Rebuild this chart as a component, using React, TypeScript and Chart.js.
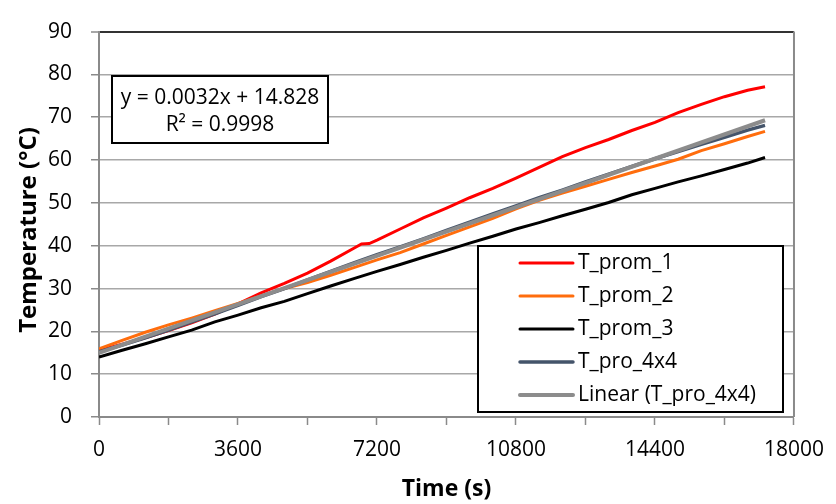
import React, { useEffect, useRef } from 'react';
import { Chart, registerables } from 'chart.js';

Chart.register(...registerables);

// ---- data ----
const timeS = [0, 600, 1200, 1800, 2400, 3000, 3600, 4200, 4800, 5400, 6000, 6600, 7200, 7800, 8400, 9000, 9600, 10200, 10800, 11400, 12000, 12600, 13200, 13800, 14400, 15000, 15600, 16200, 16800, 17250];
const timeRed = [0, 600, 1200, 1800, 2400, 3000, 3600, 4200, 4800, 5400, 6000, 6600, 6800, 7000, 7200, 7800, 8400, 9000, 9600, 10200, 10800, 11400, 12000, 12600, 13200, 13800, 14400, 15000, 15600, 16200, 16800, 17250];
const tProm1 = [15.6, 17.0, 18.5, 20.2, 22.0, 24.0, 26.4, 29.0, 31.2, 33.6, 36.4, 39.4, 40.4, 40.5, 41.3, 43.9, 46.5, 48.8, 51.2, 53.4, 55.8, 58.3, 60.8, 62.9, 64.8, 66.9, 68.8, 71.1, 73.0, 74.8, 76.3, 77.1];
const tProm2 = [15.9, 17.9, 19.8, 21.5, 23.1, 24.8, 26.5, 28.3, 30.0, 31.4, 33.1, 34.9, 36.7, 38.4, 40.4, 42.4, 44.4, 46.4, 48.6, 50.6, 52.3, 53.9, 55.5, 57.1, 58.6, 60.2, 62.2, 63.8, 65.5, 66.7];
const tProm3 = [14.0, 15.6, 17.1, 18.7, 20.3, 22.2, 23.8, 25.5, 27.0, 28.8, 30.6, 32.3, 34.0, 35.6, 37.3, 38.9, 40.6, 42.2, 43.9, 45.4, 47.0, 48.5, 50.1, 51.9, 53.4, 54.9, 56.3, 57.8, 59.3, 60.6];
const tPro4x4 = [15.2, 16.8, 18.5, 20.3, 22.2, 24.1, 26.1, 28.1, 30.0, 32.0, 34.0, 36.0, 37.9, 39.7, 41.6, 43.6, 45.5, 47.4, 49.3, 51.2, 53.0, 54.9, 56.7, 58.5, 60.3, 62.0, 63.7, 65.3, 67.0, 68.1];
const linearTime = [0, 17250];
const linearTemp = [15.0, 69.3];

const seriesNames = ['T_prom_1', 'T_prom_2', 'T_prom_3', 'T_pro_4x4', 'Linear (T_pro_4x4)'];
const seriesColors = ['#ff0000', '#ff6d0d', '#000000', '#44546a', '#8c8c8c'];
const equationLines = ['y = 0.0032x + 14.828', 'R\u00b2 = 0.9998'];
const xTitle = 'Time (s)';
const yTitle = 'Temperature (\u00b0C)';

const FONT = '"Open Sans", "DejaVu Sans", sans-serif';

function pts(xs: number[], ys: number[]) {
  return xs.map((x, i) => ({ x, y: ys[i] }));
}

const overlayPlugin = {
  id: 'overlay',
  afterDraw(chart: any) {
    const ctx = chart.ctx as CanvasRenderingContext2D;
    const ca = chart.chartArea;
    ctx.save();
    // right border
    ctx.strokeStyle = '#8a8a8a';
    ctx.lineWidth = 2;
    ctx.beginPath();
    ctx.moveTo(ca.right, ca.top);
    ctx.lineTo(ca.right, ca.bottom);
    ctx.stroke();

    // axis titles
    ctx.fillStyle = '#000';
    ctx.font = `bold 23px ${FONT}`;
    ctx.textAlign = 'center';
    ctx.textBaseline = 'middle';
    ctx.fillText(xTitle, (ca.left + ca.right) / 2, 489);
    ctx.save();
    ctx.font = `bold 24px ${FONT}`;
    ctx.translate(29, 230);
    ctx.rotate(-Math.PI / 2);
    ctx.fillText(yTitle, 0, 0);
    ctx.restore();

    // equation box
    const ex = 112, ey = 76, ew = 216, eh = 67;
    ctx.fillStyle = '#fff';
    ctx.fillRect(ex, ey, ew, eh);
    ctx.strokeStyle = '#000';
    ctx.lineWidth = 2;
    ctx.strokeRect(ex, ey, ew, eh);
    ctx.fillStyle = '#000';
    ctx.font = `21px ${FONT}`;
    ctx.fillText(equationLines[0], ex + ew / 2, 98);
    ctx.fillText(equationLines[1], ex + ew / 2, 125);

    // legend box
    const lx = 478, ly = 246, lw = 305, lh = 166;
    ctx.fillStyle = '#fff';
    ctx.fillRect(lx, ly, lw, lh);
    ctx.strokeStyle = '#000';
    ctx.lineWidth = 2;
    ctx.strokeRect(lx, ly, lw, lh);
    ctx.font = `21px ${FONT}`;
    ctx.textAlign = 'left';
    const rowY = [263, 296, 329, 362, 395];
    const widths = [3, 3, 3, 3.5, 4];
    seriesNames.forEach((name, i) => {
      ctx.strokeStyle = seriesColors[i];
      ctx.lineWidth = widths[i];
      ctx.lineCap = 'round';
      ctx.beginPath();
      ctx.moveTo(520, rowY[i]);
      ctx.lineTo(573, rowY[i]);
      ctx.stroke();
      ctx.fillStyle = '#000';
      ctx.fillText(name, 578, rowY[i]);
    });
    ctx.restore();
  },
};

export default function App() {
  const ref = useRef<HTMLCanvasElement | null>(null);
  useEffect(() => {
    if (!ref.current) return;
    const chart = new Chart(ref.current, {
      type: 'line',
      data: {
        datasets: [
          { label: seriesNames[0], data: pts(timeRed, tProm1), borderColor: seriesColors[0], borderWidth: 3, order: 4 },
          { label: seriesNames[1], data: pts(timeS, tProm2), borderColor: seriesColors[1], borderWidth: 3, order: 3 },
          { label: seriesNames[2], data: pts(timeS, tProm3), borderColor: seriesColors[2], borderWidth: 3, order: 2 },
          { label: seriesNames[3], data: pts(timeS, tPro4x4), borderColor: seriesColors[3], borderWidth: 3.5, order: 1 },
          { label: seriesNames[4], data: pts(linearTime, linearTemp), borderColor: seriesColors[4], borderWidth: 4, order: 0 },
        ] as any,
      },
      options: {
        responsive: false,
        animation: false,
        elements: { point: { radius: 0 }, line: { tension: 0, fill: false } },
        layout: { padding: { left: 0, right: 38, top: 22, bottom: 0 } },
        plugins: { legend: { display: false }, tooltip: { enabled: false } },
        scales: {
          x: {
            type: 'linear',
            min: 0,
            max: 18000,
            afterFit: (s: any) => { s.height = 87; },
            ticks: {
              stepSize: 1800,
              autoSkip: false,
              maxRotation: 0,
              padding: 12,
              color: '#000',
              font: { family: FONT, size: 21 },
              callback: (v: any) => (Number(v) % 3600 === 0 ? String(v) : ''),
            },
            grid: { drawOnChartArea: false, drawTicks: true, tickLength: 8, tickColor: '#8a8a8a', tickWidth: 1.5 },
            border: { display: true, color: '#8a8a8a', width: 2 },
          },
          y: {
            type: 'linear',
            min: 0,
            max: 90,
            afterFit: (s: any) => { s.width = 99; },
            ticks: {
              stepSize: 10,
              padding: 19,
              color: '#000',
              font: { family: FONT, size: 21 },
            },
            grid: {
              color: (c: any) => (c.tick && c.tick.value === 90 ? '#333333' : '#a8a8a8'),
              lineWidth: (c: any) => (c.tick && c.tick.value === 90 ? 2 : 1.5),
              tickLength: 8,
              tickColor: '#8a8a8a',
              tickWidth: 1.5,
            },
            border: { display: true, color: '#8a8a8a', width: 2 },
          },
        },
      } as any,
      plugins: [overlayPlugin],
    });
    return () => chart.destroy();
  }, []);
  return (
    <div style={{ position: 'fixed', left: 0, top: 0, width: 836, height: 504, background: '#fff' }}>
      <canvas ref={ref} width={836} height={504} style={{ display: 'block' }} />
    </div>
  );
}
